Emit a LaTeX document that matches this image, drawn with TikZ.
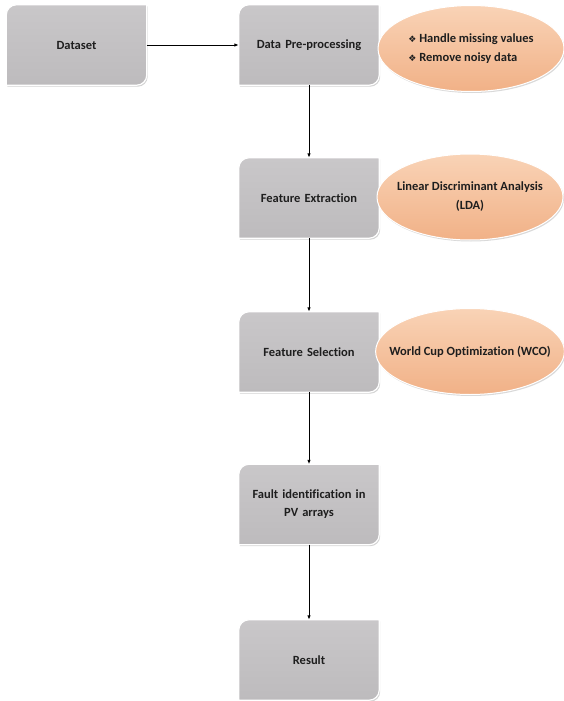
\documentclass[tikz,border=0pt]{standalone}
\usepackage{fontspec}
\setmainfont{Carlito}[Ligatures=NoCommon]
\newfontfamily\dingfont{DejaVu Sans}
\usepackage{xcolor}
\usepackage{tikz}
\usetikzlibrary{shapes.geometric, arrows.meta, positioning, shadows, backgrounds}
\definecolor{boxgray}{HTML}{C9C7C9}
\definecolor{boxdark}{HTML}{BDBBBD}
\definecolor{peach}{HTML}{F1B187}
\definecolor{peachlight}{HTML}{F9D3B6}
\definecolor{ink}{HTML}{1E1E1E}

\tikzset{
  procbox/.style={minimum width=140pt, minimum height=80pt, text width=126pt, align=center,
    inner sep=0pt, font=\bfseries\fontsize{12.5}{18}\selectfont, text=ink},
  boxshape/.style={top color=boxgray, bottom color=boxdark, draw=white, line width=1.2pt,
    drop shadow={opacity=0.35, shadow xshift=1pt, shadow yshift=-1.5pt}},
  methodell/.style={ellipse, minimum width=186pt, minimum height=86pt, inner xsep=-14pt,
    inner ysep=0pt, draw=white, line width=1pt,
    top color=peachlight, middle color=peach, bottom color=peach,
    drop shadow={opacity=0.3, shadow xshift=1pt, shadow yshift=-1.5pt},
    font=\bfseries\fontsize{12.5}{19}\selectfont, text=ink},
  flow/.style={-{Latex[length=4.5pt,width=3.5pt]}, line width=0.9pt, black}
}

\begin{document}
\begin{tikzpicture}[x=1pt, y=1pt]
    \useasboundingbox (0,0) rectangle (563,-701);

    % process steps
    \node[procbox] (data)  at (76.5,-45) {Dataset};
    \node[procbox] (prep)  at (309,-45)  {Data Pre-processing};
    \node[procbox] (extr)  at (309,-198) {Feature Extraction};
    \node[procbox] (sel)   at (309,-352) {Feature Selection};
    \node[procbox] (fault) at (309,-504.5) {Fault identification in\\PV arrays};
    \node[procbox] (res)   at (309,-660) {Result};

    % methods
    \node[methodell, align=left] (clean) at (471,-48.5)
        {{\dingfont\small ❖} Handle missing values\\{\dingfont\small ❖} Remove noisy data};
    \node[methodell, align=center] (lda) at (470,-197)
        {Linear Discriminant Analysis\\(LDA)};
    \node[methodell] (wco) at (470,-351.5) {World Cup Optimization (WCO)};

    \begin{scope}[on background layer]
    \foreach \b in {data,prep,extr,sel,fault,res}
        \path[boxshape] ([xshift=10pt]\b.north west) -- (\b.north east)
            -- ([yshift=10pt]\b.south east) arc[start angle=0, end angle=-90, radius=10pt]
            -- (\b.south west) -- ([yshift=-10pt]\b.north west)
            arc[start angle=180, end angle=90, radius=10pt] -- cycle;
    \end{scope}

    \draw[flow] (data) -- (prep);
    \foreach \a/\b in {prep/extr, extr/sel, sel/fault, fault/res}
        \draw[flow] (\a) -- (\b);
\end{tikzpicture}
\end{document}
